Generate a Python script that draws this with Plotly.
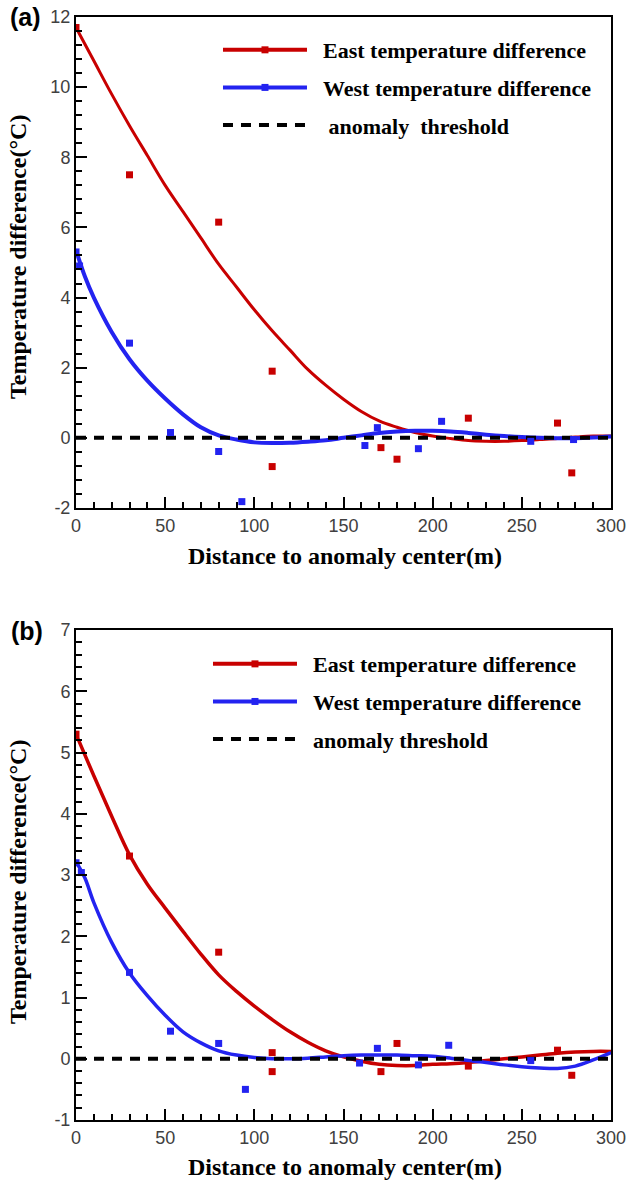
import plotly.graph_objects as go

# ---------------- data ----------------
# panel (a) fitted curves
east_fit_x_a = [0, 10, 20, 30, 40, 50, 60, 70, 80, 90, 100, 110, 120, 130, 140, 150,
                160, 170, 180, 190, 200, 210, 220, 230, 240, 250, 260, 270, 280, 290, 300]
east_fit_a = [11.7, 10.75, 9.8, 8.9, 8.05, 7.2, 6.45, 5.7, 4.95, 4.3, 3.65, 3.05, 2.5, 1.95,
              1.5, 1.1, 0.75, 0.48, 0.3, 0.15, 0.05, -0.02, -0.08, -0.1, -0.1, -0.08,
              -0.05, -0.02, 0.02, 0.05, 0.05]
west_fit_x_a = [0, 5, 10, 20, 30, 40, 50, 60, 70, 80, 90, 100, 110, 120, 130, 140, 150,
                160, 170, 180, 190, 200, 210, 220, 230, 240, 250, 260, 270, 280, 290, 300]
west_fit_a = [5.35, 4.6, 4.0, 3.02, 2.24, 1.63, 1.12, 0.67, 0.3, 0.07, -0.05, -0.13, -0.15,
              -0.14, -0.11, -0.07, 0.0, 0.07, 0.14, 0.18, 0.2, 0.2, 0.18, 0.14, 0.09, 0.05,
              0.02, 0.0, -0.01, -0.01, 0.01, 0.04]

# panel (a) measured points
east_x_a = [0, 30, 80, 110, 110, 171, 180, 220, 270, 278]
east_y_a = [11.7, 7.5, 6.15, 1.9, -0.82, -0.28, -0.61, 0.56, 0.42, -1.0]
west_x_a = [0, 2, 30, 53, 80, 93, 162, 169, 192, 205, 255, 279]
west_y_a = [5.3, 4.9, 2.7, 0.15, -0.39, -1.82, -0.22, 0.29, -0.31, 0.47, -0.1, -0.05]

# panel (b) fitted curves
east_fit_x_b = [0, 10, 20, 30, 40, 50, 60, 70, 80, 90, 100, 110, 120, 130, 140, 150,
                160, 170, 180, 190, 200, 210, 220, 230, 240, 250, 260, 270, 280, 290, 300]
east_fit_b = [5.3, 4.62, 3.96, 3.33, 2.85, 2.46, 2.08, 1.71, 1.37, 1.1, 0.86, 0.64, 0.44, 0.27,
              0.13, 0.03, -0.04, -0.09, -0.11, -0.11, -0.09, -0.08, -0.06, -0.03, 0.0, 0.03,
              0.06, 0.09, 0.11, 0.12, 0.12]
west_fit_x_b = [0, 5, 10, 20, 30, 40, 50, 60, 70, 80, 90, 100, 110, 120, 130, 140, 150,
                160, 170, 180, 190, 200, 210, 220, 230, 240, 250, 260, 270, 280, 290, 300]
west_fit_b = [3.22, 2.95, 2.55, 1.9, 1.4, 1.03, 0.71, 0.44, 0.26, 0.13, 0.06, 0.02, 0.0, 0.0,
              0.01, 0.03, 0.05, 0.06, 0.06, 0.06, 0.05, 0.04, 0.01, -0.03, -0.06, -0.1, -0.13,
              -0.15, -0.16, -0.12, -0.02, 0.1]

# panel (b) measured points
east_x_b = [0, 30, 80, 110, 110, 171, 180, 220, 270, 278]
east_y_b = [5.3, 3.31, 1.74, 0.1, -0.21, -0.21, 0.25, -0.12, 0.14, -0.27]
west_x_b = [0, 3, 30, 53, 80, 95, 159, 169, 192, 209, 255]
west_y_b = [3.2, 3.04, 1.41, 0.45, 0.25, -0.5, -0.07, 0.17, -0.1, 0.22, -0.03]

threshold_x = [0, 300]
threshold_y = [0, 0]

x_ticks = [0, 50, 100, 150, 200, 250, 300]
y_ticks_a = [-2, 0, 2, 4, 6, 8, 10, 12]
y_ticks_b = [-1, 0, 1, 2, 3, 4, 5, 6, 7]

names_a = ["\u00a0\u00a0East temperature difference",
           "\u00a0\u00a0West temperature difference",
           "\u00a0\u00a0\u00a0anomaly\u00a0\u00a0threshold"]
names_b = ["\u00a0\u00a0East temperature difference",
           "\u00a0\u00a0West temperature difference",
           "\u00a0\u00a0anomaly threshold"]

RED = "#c80000"
BLUE = "#2323f0"

fig = go.Figure()


def add_panel(xa, ya, efx, east_fit, wfx, west_fit, ex, ey, wx, wy, names, legend, wr, wb):
    fig.add_trace(go.Scatter(x=efx, y=east_fit, mode="lines", line=dict(color=RED, width=wr, shape="spline"),
                             xaxis=xa, yaxis=ya, showlegend=False, hoverinfo="skip"))
    fig.add_trace(go.Scatter(x=wfx, y=west_fit, mode="lines", line=dict(color=BLUE, width=wb, shape="spline"),
                             xaxis=xa, yaxis=ya, showlegend=False, hoverinfo="skip"))
    fig.add_trace(go.Scatter(x=threshold_x, y=threshold_y, mode="lines",
                             line=dict(color="black", width=4, dash="10px,8px"),
                             xaxis=xa, yaxis=ya, showlegend=False, hoverinfo="skip"))
    fig.add_trace(go.Scatter(x=ex, y=ey, mode="markers", marker=dict(color=RED, size=7, symbol="square"),
                             xaxis=xa, yaxis=ya, showlegend=False))
    fig.add_trace(go.Scatter(x=wx, y=wy, mode="markers", marker=dict(color=BLUE, size=7, symbol="square"),
                             xaxis=xa, yaxis=ya, showlegend=False))
    # legend entries
    fig.add_trace(go.Scatter(x=[None], y=[None], mode="lines+markers", name=names[0],
                             line=dict(color=RED, width=4), marker=dict(color=RED, size=7, symbol="square"),
                             xaxis=xa, yaxis=ya, legend=legend, legendgroup=legend + "e"))
    fig.add_trace(go.Scatter(x=[None], y=[None], mode="lines+markers", name=names[1],
                             line=dict(color=BLUE, width=4), marker=dict(color=BLUE, size=7, symbol="square"),
                             xaxis=xa, yaxis=ya, legend=legend, legendgroup=legend + "w"))
    fig.add_trace(go.Scatter(x=[None], y=[None], mode="lines", name=names[2],
                             line=dict(color="black", width=4, dash="10px,8px"),
                             xaxis=xa, yaxis=ya, legend=legend, legendgroup=legend + "t"))


add_panel("x", "y", east_fit_x_a, east_fit_a, west_fit_x_a, west_fit_a,
          east_x_a, east_y_a, west_x_a, west_y_a, names_a, "legend", 3, 4)
add_panel("x2", "y2", east_fit_x_b, east_fit_b, west_fit_x_b, west_fit_b,
          east_x_b, east_y_b, west_x_b, west_y_b, names_b, "legend2", 3.5, 3.5)

tickfont = dict(family="Liberation Sans, Arial", size=18, color="#404040")
axis_common = dict(ticks="inside", ticklen=11, tickwidth=2, tickcolor="black", showline=True,
                   linecolor="black", linewidth=2, mirror=True, showgrid=False, zeroline=False,
                   tickfont=tickfont, automargin=False, tickmode="array",
                   ticklabeloverflow="allow")
common_x = dict(range=[0, 300], tickvals=x_ticks, ticktext=[str(v) for v in x_ticks],
                minor=dict(dtick=10, tick0=0, ticks="inside", ticklen=6, tickwidth=1.5,
                           tickcolor="black", showgrid=False),
                **axis_common)

legend_common = dict(xref="paper", yref="paper", xanchor="left", yanchor="top",
                     bgcolor="rgba(0,0,0,0)", itemwidth=84, tracegroupgap=6,
                     font=dict(family="Liberation Serif, Times New Roman", size=22, color="black",
                               weight="bold"))

fig.update_layout(
    template="none",
    width=628, height=1182,
    margin=dict(l=76, r=17, t=17, b=62),
    paper_bgcolor="white", plot_bgcolor="white",
    showlegend=True,
    xaxis=dict(domain=[0, 1], anchor="y", **common_x),
    yaxis=dict(domain=[0.5549, 1], anchor="x", range=[-2, 12], tickvals=y_ticks_a,
               ticktext=[str(v) for v in y_ticks_a],
               minor=dict(dtick=0.4, tick0=0, ticks="inside", ticklen=6, tickwidth=1.5,
                          tickcolor="black", showgrid=False),
               **axis_common),
    xaxis2=dict(domain=[0, 1], anchor="y2", **common_x),
    yaxis2=dict(domain=[0, 0.4442], anchor="x2", range=[-1, 7], tickvals=y_ticks_b,
                ticktext=[str(v) for v in y_ticks_b],
                minor=dict(dtick=0.2, tick0=0, ticks="inside", ticklen=6, tickwidth=1.5,
                           tickcolor="black", showgrid=False),
                **axis_common),
    legend=dict(x=0.2654, y=0.9891, **legend_common),
    legend2=dict(x=0.2467, y=0.4324, **legend_common),
)

title_font = dict(family="Liberation Serif, Times New Roman", size=24, color="black")
label_font = dict(family="Liberation Sans, Arial", size=25, color="black")
annos = [
    dict(text="<b>Distance to anomaly center(m)</b>", x=0.503, y=0.5113, font=title_font, textangle=0),
    dict(text="<b>Distance to anomaly center(m)</b>", x=0.503, y=-0.0426, font=title_font, textangle=0),
    dict(text="<b>Temperature difference(°C)</b>", x=-0.1084, y=0.7824, font=title_font, textangle=-90),
    dict(text="<b>Temperature difference(°C)</b>", x=-0.1084, y=0.2158, font=title_font, textangle=-90),
    dict(text="<b>(a)</b>", x=-0.0953, y=1.0, font=label_font, textangle=0),
    dict(text="<b>(b)</b>", x=-0.0916, y=0.4433, font=label_font, textangle=0),
]
for a in annos:
    fig.add_annotation(xref="paper", yref="paper", xanchor="center", yanchor="middle",
                       showarrow=False, **a)

# remove the default 8px page margin so the figure fills the window exactly
fig.write_html("out.html", config={"displayModeBar": False},
               post_script="document.body.style.margin='0px';")
